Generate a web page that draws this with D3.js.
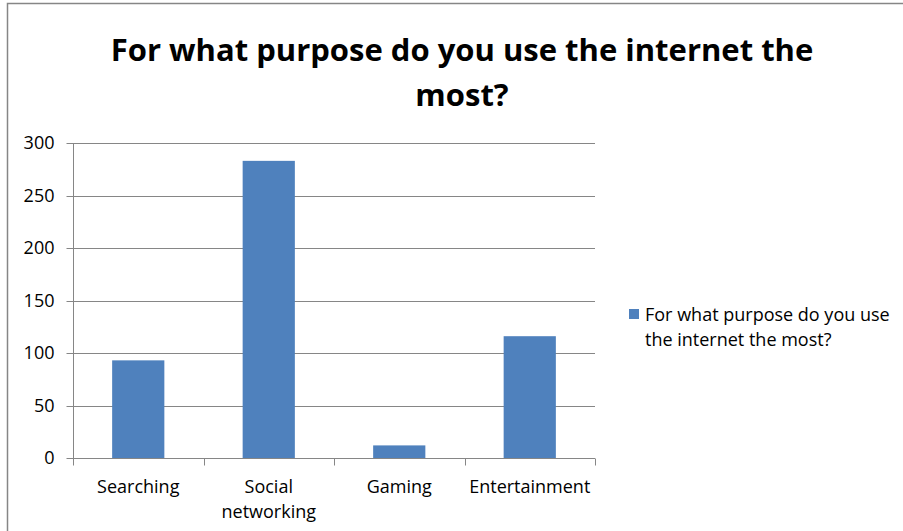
<!DOCTYPE html>
<html>
<head>
<meta charset="utf-8">
<script src="https://cdn.jsdelivr.net/npm/d3@7"></script>
<style>
  body { margin: 0; background: #fff; }
  text { font-family: "Open Sans", "Noto Sans", sans-serif; fill: #000; }
</style>
</head>
<body>
<svg id="chart" width="903" height="531"></svg>
<script>
// chart data
var categories = [["Searching"], ["Social", "networking"], ["Gaming"], ["Entertainment"]];
var values = [93, 283, 12, 116];
var yTicks = [0, 50, 100, 150, 200, 250, 300];
var titleLines = ["For what purpose do you use the internet the", "most?"];
var legendLines = ["For what purpose do you use", "the internet the most?"];

var svg = d3.select("#chart");
var barColor = "#4f81bd";
var gridColor = "#868686";

// outer chart frame
svg.append("rect")
  .attr("x", 7.5).attr("y", 3.5)
  .attr("width", 1000).attr("height", 600)
  .attr("fill", "none")
  .attr("stroke", "#868686")
  .attr("stroke-width", 1.5);

var pLeft = 73, pRight = 595, pTop = 143, pBottom = 458;

var x = d3.scaleBand()
  .domain(d3.range(categories.length))
  .range([pLeft, pRight])
  .paddingInner(0.6)
  .paddingOuter(0.3);

var y = d3.scaleLinear().domain([0, 300]).range([pBottom, pTop]);

// gridlines
svg.append("g").selectAll("line")
  .data(yTicks.filter(function(d) { return d > 0; }))
  .join("line")
  .attr("x1", pLeft).attr("x2", pRight)
  .attr("y1", function(d) { return Math.round(y(d)) + 0.5; })
  .attr("y2", function(d) { return Math.round(y(d)) + 0.5; })
  .attr("stroke", gridColor)
  .attr("stroke-width", 1);

// bars
svg.append("g").selectAll("rect")
  .data(values)
  .join("rect")
  .attr("x", function(d, i) { return x(i); })
  .attr("y", function(d) { return y(d); })
  .attr("width", x.bandwidth())
  .attr("height", function(d) { return pBottom - y(d); })
  .attr("fill", barColor);

// y axis
var yAxis = d3.axisLeft(y).tickValues(yTicks).tickSize(7).tickPadding(12);
var gy = svg.append("g")
  .attr("transform", "translate(" + (pLeft + 0.5) + ",0)")
  .call(yAxis);
gy.selectAll("line, path").attr("stroke", gridColor);
gy.selectAll(".tick").attr("transform", function(d) { return "translate(0," + (Math.round(y(d)) + 0.5) + ")"; });
gy.select(".domain").attr("d", "M0," + pTop + "V" + (pBottom + 1));
gy.selectAll("text")
  .style("font-family", "'Open Sans', sans-serif")
  .style("font-size", "18px")
  .attr("fill", "#000");

// x axis
var bx = d3.scaleLinear().domain([0, categories.length]).range([pLeft, pRight]);
var gx = svg.append("g").attr("transform", "translate(0," + (pBottom + 0.5) + ")");
gx.append("line")
  .attr("x1", pLeft).attr("x2", pRight)
  .attr("stroke", gridColor);
gx.selectAll(".tk")
  .data(d3.range(categories.length + 1))
  .join("line")
  .attr("class", "tk")
  .attr("x1", function(d) { return Math.round(bx(d)) + 0.5; })
  .attr("x2", function(d) { return Math.round(bx(d)) + 0.5; })
  .attr("y1", 0).attr("y2", 7)
  .attr("stroke", gridColor);

var xl = gx.selectAll(".xl")
  .data(categories)
  .join("text")
  .attr("class", "xl")
  .attr("x", function(d, i) { return x(i) + x.bandwidth() / 2; })
  .attr("y", 34)
  .attr("text-anchor", "middle")
  .style("font-size", "18px");
xl.selectAll("tspan")
  .data(function(d) { return d; })
  .join("tspan")
  .attr("x", function() { return d3.select(this.parentNode).attr("x"); })
  .attr("dy", function(d, i) { return i == 0 ? 0 : 25; })
  .text(function(d) { return d; });

// title
svg.append("text")
  .attr("x", 462).attr("y", 61)
  .attr("text-anchor", "middle")
  .style("font-size", "31px")
  .style("font-weight", "bold")
  .selectAll("tspan")
  .data(titleLines)
  .join("tspan")
  .attr("x", 462)
  .attr("dy", function(d, i) { return i == 0 ? 0 : 45; })
  .text(function(d) { return d; });

// legend
svg.append("rect")
  .attr("x", 629).attr("y", 309)
  .attr("width", 10).attr("height", 10)
  .attr("fill", barColor);
svg.append("text")
  .attr("x", 645).attr("y", 321)
  .style("font-size", "18px")
  .selectAll("tspan")
  .data(legendLines)
  .join("tspan")
  .attr("x", 645)
  .attr("dy", function(d, i) { return i == 0 ? 0 : 25; })
  .text(function(d) { return d; });
</script>
</body>
</html>
